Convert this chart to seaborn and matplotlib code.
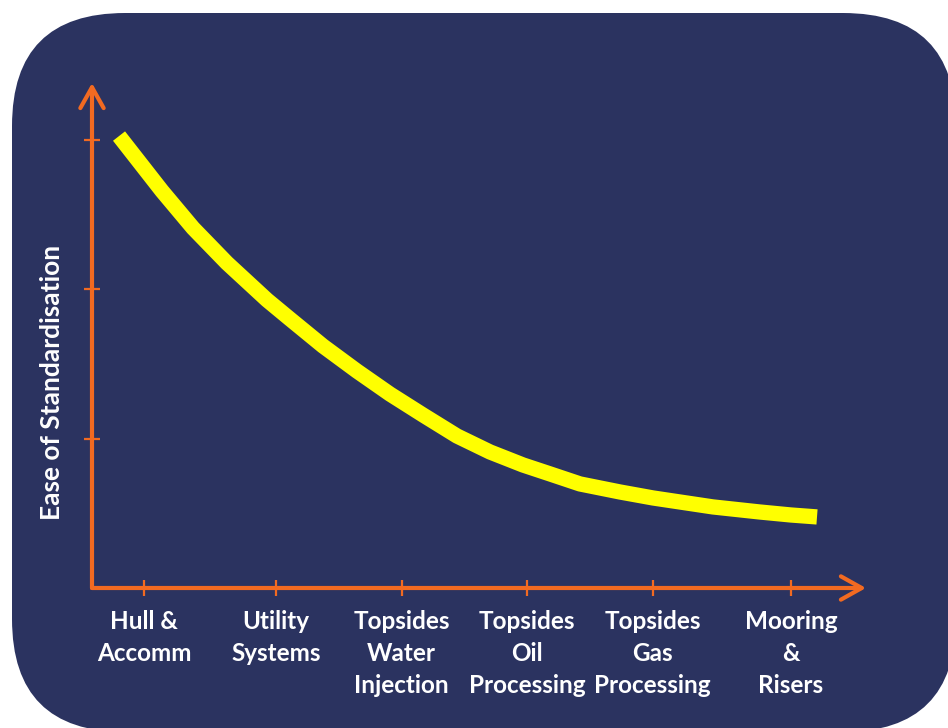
import matplotlib
matplotlib.use("Agg")
import matplotlib.pyplot as plt
from matplotlib.patches import FancyBboxPatch
import seaborn as sns
import pandas as pd

# ---- data ----
categories = ["Hull &\nAccomm", "Utility\nSystems", "Topsides\nWater\nInjection",
              "Topsides\nOil\nProcessing", "Topsides\nGas\nProcessing", "Mooring\n&\nRisers"]
category_pos = [0, 1.02, 1.99, 2.96, 3.93, 5.0]
# points (x in category units, y in "ease" units)
curve_x = [-0.193, 0.139, 0.379, 0.641, 0.951, 1.128, 1.383, 1.646, 1.901, 2.156,
           2.419, 2.674, 2.929, 3.138, 3.369, 3.679, 3.934, 4.397, 4.760, 5.000, 5.201]
curve_y = [3.027, 2.659, 2.411, 2.177, 1.929, 1.802, 1.621, 1.453, 1.299, 1.159,
           1.018, 0.911, 0.824, 0.764, 0.697, 0.643, 0.603, 0.543, 0.509, 0.489, 0.476]
y_ticks = [1, 2, 3]
y_label = "Ease of Standardisation"

NAVY = "#2B3360"
ORANGE = "#F26A21"
YELLOW = "#FFFF00"

sns.set_theme(style="white")
plt.rcParams["font.family"] = ["Lato", "DejaVu Sans"]

W, H = 948, 728
fig = plt.figure(figsize=(W / 100, H / 100), dpi=100)
fig.patch.set_facecolor("white")

# background rounded panel
bg = fig.add_axes([0, 0, 1, 1])
bg.set_xlim(0, W)
bg.set_ylim(H, 0)
bg.axis("off")
bg.add_patch(FancyBboxPatch((12 + 113, 13 + 113), 956 - 12 - 226, 732 - 13 - 226,
                            boxstyle="round,pad=113", facecolor=NAVY, edgecolor="none"))

# main axes
x0, x1 = 92, 866
y0, y1 = 588, 83
ax = fig.add_axes([x0 / W, (H - y0) / H, (x1 - x0) / W, (y0 - y1) / H])
ax.patch.set_alpha(0)
px_per_unit_x = 129.4
ax.set_xlim((x0 - 144) / px_per_unit_x, (x1 - 144) / px_per_unit_x)
ax.set_ylim(0, (y0 - y1) / 149.3)

df = pd.DataFrame({"x": curve_x, "y": curve_y})
sns.lineplot(data=df, x="x", y="y", sort=False, ax=ax, color=YELLOW, linewidth=11)
for l in ax.get_lines():
    l.set_solid_capstyle("butt")
    l.set_solid_joinstyle("round")

for s in ax.spines.values():
    s.set_visible(False)

arrow_kw = dict(arrowstyle="->,head_length=0.75,head_width=0.42", color=ORANGE,
                lw=3, shrinkA=0, shrinkB=0, mutation_scale=20)
ax.annotate("", xy=(1, 0), xytext=(0, 0), xycoords="axes fraction",
            textcoords="axes fraction", arrowprops=arrow_kw, annotation_clip=False)
ax.annotate("", xy=(0, 1), xytext=(0, 0), xycoords="axes fraction",
            textcoords="axes fraction", arrowprops=arrow_kw, annotation_clip=False)

ax.set_xticks(category_pos)
ax.set_xticklabels(categories, fontsize=17.5, fontweight="bold", color="white",
                   linespacing=1.48)
ax.set_yticks(y_ticks)
ax.set_yticklabels([])
ax.tick_params(axis="both", direction="inout", length=11, width=1.6, color=ORANGE,
               bottom=True, left=True)
ax.tick_params(axis="x", pad=10)
ax.set_xlabel("")
ax.set_ylabel(y_label, fontsize=19, fontweight="bold", color="white")
ax.yaxis.label.set_verticalalignment("center")
ax.yaxis.set_label_coords((52 - x0) / (x1 - x0), (y0 - 382) / (y0 - y1))

fig.savefig("out.png", dpi=100, facecolor=fig.get_facecolor())
